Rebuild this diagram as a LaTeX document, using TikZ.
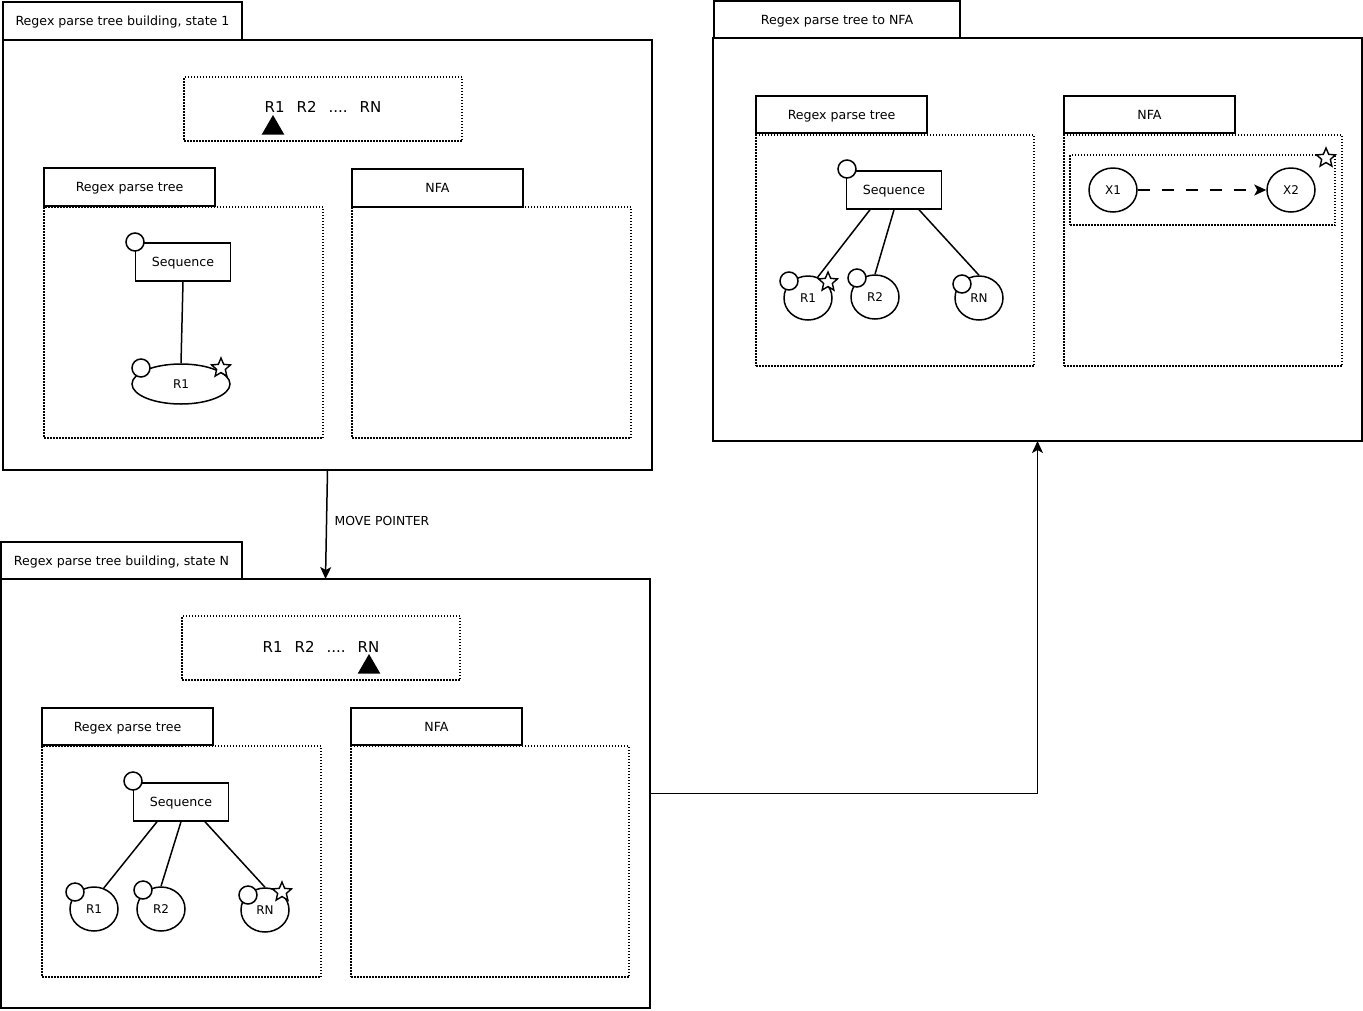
\documentclass[tikz,border=0pt]{standalone}
\usepackage{fontspec}
\setmainfont{DejaVu Sans}
\usetikzlibrary{arrows.meta,shapes.geometric,positioning}

\tikzset{
  frame/.style={draw, line width=1.5pt, anchor=north west, inner sep=0pt, outer sep=0pt},
  tab/.style={frame, font=\fontsize{12.6}{15}\selectfont, text height=9.4pt, text depth=0pt},
  dotbox/.style={draw, line width=1.2pt, dash pattern=on 1.5pt off 1.5pt, anchor=north west, inner sep=0pt, outer sep=0pt},
  seqbox/.style={draw, line width=1.5pt, minimum width=95pt, minimum height=38pt, inner sep=0pt, font=\fontsize{12.6}{15}\selectfont, text height=9.4pt, text depth=0pt},
  leaf/.style={draw, ellipse, line width=1.5pt, minimum width=48pt, minimum height=44pt, inner sep=0pt, font=\fontsize{12}{14}\selectfont},
  knob/.style={draw, circle, fill=white, line width=1.5pt, minimum size=18pt, inner sep=0pt},
  starmark/.style={draw, star, star points=5, star point ratio=2.2, fill=white, line width=1.4pt, minimum size=20pt, inner sep=0pt},
  pointer/.style={regular polygon, regular polygon sides=3, fill=black, minimum size=26pt, inner sep=0pt},
  bigtxt/.style={font=\fontsize{15}{18}\selectfont},
  edge/.style={line width=1.5pt},
  conn/.style={line width=1.5pt, -{Stealth[length=12pt,width=11pt,inset=3pt]}}
}

\begin{document}
\begin{tikzpicture}[x=1pt, y=-1pt]
\useasboundingbox (0,0) rectangle (1363,1010);

% state 1
\node[frame, minimum width=649pt, minimum height=430pt] (f1) at (3,40) {};
\node[tab, minimum width=239pt, minimum height=38pt] (f1tab) at (3,2) {Regex parse tree building, state 1};
\node[dotbox, minimum width=278pt, minimum height=64pt] (s1box) at (184,77) {};
\node[bigtxt] (s1str) at (323,107) {R1\hspace{12pt}R2\hspace{12pt}....\hspace{12pt}RN};
\node[pointer] (s1ptr) at (273,128) {};
\node[tab, minimum width=171pt, minimum height=38pt] (t1tab) at (44,168) {Regex parse tree};
\node[dotbox, minimum width=279pt, minimum height=231pt] (t1box) at (44,207) {};
\node[tab, minimum width=171pt, minimum height=38pt] (n1tab) at (352,169) {NFA};
\node[dotbox, minimum width=279pt, minimum height=231pt] (n1box) at (352,207) {};
\node[seqbox] (seq1) at (183,262) {Sequence};
\node[leaf, minimum width=98pt, minimum height=40pt] (r1a) at (181,384) {R1};
\draw[edge] (seq1.south) -- (r1a.north);
\node[knob] at (135,242) {};
\node[knob] at (141,368) {};
\node[starmark] at (221,368) {};

% state N
\node[frame, minimum width=649pt, minimum height=429pt] (fN) at (1,579) {};
\node[tab, minimum width=241pt, minimum height=37pt] (fNtab) at (1,542) {Regex parse tree building, state N};
\node[dotbox, minimum width=278pt, minimum height=64pt] (sNbox) at (182,616) {};
\node[bigtxt] (sNstr) at (321,647) {R1\hspace{12pt}R2\hspace{12pt}....\hspace{12pt}RN};
\node[pointer] (sNptr) at (369,667) {};
\node[tab, minimum width=171pt, minimum height=37pt] (tNtab) at (42,708) {Regex parse tree};
\node[dotbox, minimum width=279pt, minimum height=231pt] (tNbox) at (42,746) {};
\node[tab, minimum width=171pt, minimum height=37pt] (nNtab) at (351,708) {NFA};
\node[dotbox, minimum width=278pt, minimum height=231pt] (nNbox) at (351,746) {};
\node[seqbox] (seqN) at (181,802) {Sequence};
\node[leaf] (r1b) at (94,909) {R1};
\node[leaf] (r2b) at (161,909) {R2};
\node[leaf] (rnb) at (265,910) {RN};
\draw[edge] ([xshift=-24pt]seqN.south) -- (r1b.65);
\draw[edge] (seqN.south) -- (r2b.north);
\draw[edge] ([xshift=24pt]seqN.south) -- (rnb.north);
\node[knob] at (133,781) {};
\node[knob] at (75,892) {};
\node[knob] at (143,890) {};
\node[knob] at (248,895) {};
\node[starmark] at (282,892) {};

% parse tree to NFA
\node[frame, minimum width=649pt, minimum height=403pt] (f3) at (713,38) {};
\node[tab, minimum width=246pt, minimum height=37pt] (f3tab) at (714,1) {Regex parse tree to NFA};
\node[tab, minimum width=171pt, minimum height=37pt] (t3tab) at (756,96) {Regex parse tree};
\node[dotbox, minimum width=278pt, minimum height=231pt] (t3box) at (756,135) {};
\node[tab, minimum width=171pt, minimum height=37pt] (n3tab) at (1064,96) {NFA};
\node[dotbox, minimum width=278pt, minimum height=231pt] (n3box) at (1064,135) {};
\node[seqbox] (seq3) at (894,190) {Sequence};
\node[leaf] (r1c) at (808,298) {R1};
\node[leaf] (r2c) at (875,297) {R2};
\node[leaf] (rnc) at (979,298) {RN};
\draw[edge] ([xshift=-24pt]seq3.south) -- (r1c.65);
\draw[edge] (seq3.south) -- (r2c.north);
\draw[edge] ([xshift=25pt]seq3.south) -- (rnc.north);
\node[knob] at (847,169) {};
\node[knob] at (789,281) {};
\node[knob] at (857,278) {};
\node[knob] at (962,284) {};
\node[starmark] at (828,282) {};
\node[dotbox, minimum width=265pt, minimum height=70pt] (x3box) at (1070,155) {};
\node[leaf] (x1) at (1113,190) {X1};
\node[leaf] (x2) at (1291,190) {X2};
\draw[edge, dash pattern=on 12pt off 12pt, -{Stealth[length=12pt,width=11pt,inset=3pt]}] (x1) -- (x2);
\node[starmark] at (1326,158) {};

% connectors between states
\draw[conn] (f1.south) -- node[right=4pt, pos=0.47, font=\fontsize{12.4}{15}\selectfont] {MOVE POINTER} (fN.north);
\draw[conn] (fN.east) -| (f3.south);
\end{tikzpicture}
\end{document}
